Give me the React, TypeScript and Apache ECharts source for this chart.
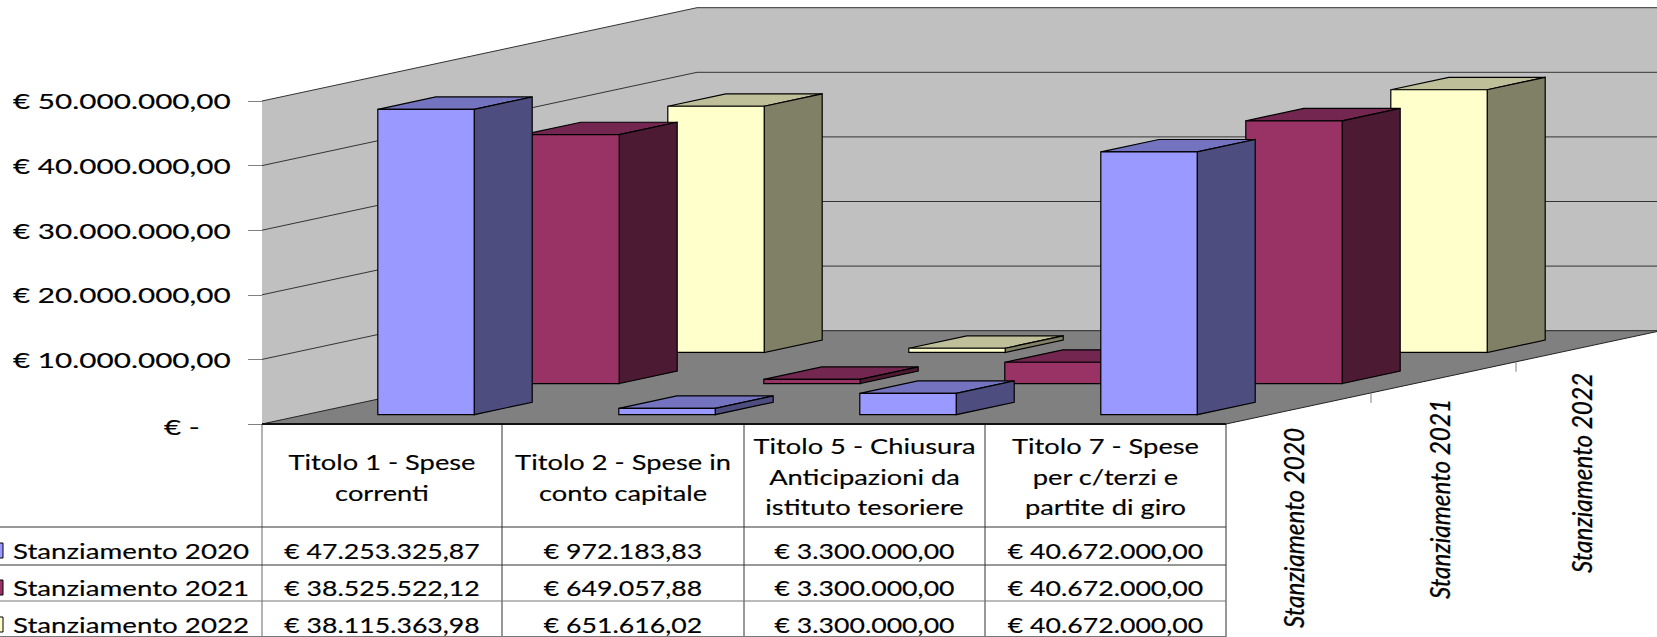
import React, { useEffect, useRef } from "react";
import * as echarts from "echarts";

const categories = ["Titolo 1 - Spese correnti", "Titolo 2 - Spese in conto capitale", "Titolo 5 - Chiusura Anticipazioni da istituto tesoriere", "Titolo 7 - Spese per c/terzi e partite di giro"];
const categoryLines = [
  ["Titolo 1 - Spese", "correnti"],
  ["Titolo 2 - Spese in", "conto capitale"],
  ["Titolo 5 - Chiusura", "Anticipazioni da", "istituto tesoriere"],
  ["Titolo 7 - Spese", "per c/terzi e", "partite di giro"],
];
const seriesNames = ["Stanziamento 2020", "Stanziamento 2021", "Stanziamento 2022"];
const values2020 = [47253325.87, 972183.83, 3300000, 40672000];
const values2021 = [38525522.12, 649057.88, 3300000, 40672000];
const values2022 = [38115363.98, 651616.02, 3300000, 40672000];
const labels2020 = ["€ 47.253.325,87", "€ 972.183,83", "€ 3.300.000,00", "€ 40.672.000,00"];
const labels2021 = ["€ 38.525.522,12", "€ 649.057,88", "€ 3.300.000,00", "€ 40.672.000,00"];
const labels2022 = ["€ 38.115.363,98", "€ 651.616,02", "€ 3.300.000,00", "€ 40.672.000,00"];
const yTicks = [0, 10000000, 20000000, 30000000, 40000000, 50000000];
const yTickLabels = ["€ -", "€ 10.000.000,00", "€ 20.000.000,00", "€ 30.000.000,00", "€ 40.000.000,00", "€ 50.000.000,00"];

const FONT = "Lato";
const GRID = { left: 262, top: 101, width: 964, height: 323 };
const DEPTH = { dx: 145, dy: -31.1 };
const COLS = [262, 502, 744, 985, 1226];
const ROWS = [527, 565, 601, 636.5];
const BOTTOM = 637;
const faces = [
  { front: "#9999FF", top: "#7373BF", side: "#4D4D80" },
  { front: "#993366", top: "#732650", side: "#4D1A33" },
  { front: "#FFFFCC", top: "#BFBF99", side: "#808066" },
];
const allValues = [values2020, values2021, values2022];
const allLabels = [labels2020, labels2021, labels2022];

function App() {
  const ref = useRef<HTMLDivElement>(null);
  useEffect(() => {
    document.body.style.margin = "0";
    const chart = echarts.init(ref.current!, undefined, { renderer: "svg" });

    const ink = { stroke: "#000", lineWidth: 1.2 };

    const wallSeries = {
      type: "custom",
      name: "walls",
      z: 1,
      silent: true,
      data: [[0]],
      renderItem: (_p: any, api: any) => {
        const c0 = api.coord([0, 0])[0] - api.size([1, 0])[0] / 2;
        const cw = api.size([1, 0])[0];
        const at = (k: number, v: number, z: number) => {
          const y = api.coord([0, v])[1];
          return [c0 + k * cw + z * DEPTH.dx, y + z * DEPTH.dy];
        };
        const top = 50000000;
        const children: any[] = [
          { type: "polygon", shape: { points: [at(0, 0, 0), at(0, top, 0), at(0, top, 3), at(0, 0, 3)] }, style: { fill: "#C0C0C0" } },
          { type: "polygon", shape: { points: [at(0, 0, 3), at(0, top, 3), at(4.1, top, 3), at(4.1, 0, 3)] }, style: { fill: "#C0C0C0" } },
          { type: "polygon", shape: { points: [at(0, 0, 0), at(0, 0, 3), at(4, 0, 3), at(4, 0, 0)] }, style: { fill: "#808080", stroke: "#222", lineWidth: 1 } },
        ];
        yTicks.forEach((v) => {
          if (v === 0) return;
          children.push({ type: "polyline", shape: { points: [at(0, v, 0), at(0, v, 3), at(4.1, v, 3)] }, style: { fill: "none", stroke: "#333", lineWidth: 1 } });
        });
        [1, 2].forEach((z) => {
          const p = at(4, 0, z);
          children.push({ type: "line", shape: { x1: p[0], y1: p[1], x2: p[0], y2: p[1] + 10 }, style: { stroke: "#808080", lineWidth: 1 } });
        });
        return { type: "group", children };
      },
    };

    const barSeries = [2, 1, 0].map((s) => ({
      type: "custom",
      name: seriesNames[s],
      z: 2 + (2 - s),
      data: allValues[s].map((v, i) => [i, v]),
      encode: { x: 0, y: 1 },
      renderItem: (_p: any, api: any) => {
        const cat = api.value(0);
        const val = api.value(1);
        const cw = api.size([1, 0])[0];
        const bw = cw * 0.4;
        const base = api.coord([cat, 0]);
        const topP = api.coord([cat, val]);
        const z0 = s + 0.3;
        const z1 = s + 0.7;
        const pt = (side: number, y: number, z: number) => [base[0] + side * bw / 2 + z * DEPTH.dx, y + z * DEPTH.dy];
        const col = faces[s];
        return {
          type: "group",
          children: [
            { type: "polygon", shape: { points: [pt(-1, topP[1], z0), pt(-1, topP[1], z1), pt(1, topP[1], z1), pt(1, topP[1], z0)] }, style: { fill: col.top, ...ink } },
            { type: "polygon", shape: { points: [pt(1, topP[1], z0), pt(1, topP[1], z1), pt(1, base[1], z1), pt(1, base[1], z0)] }, style: { fill: col.side, ...ink } },
            { type: "polygon", shape: { points: [pt(-1, topP[1], z0), pt(1, topP[1], z0), pt(1, base[1], z0), pt(-1, base[1], z0)] }, style: { fill: col.front, ...ink } },
          ],
        };
      },
    }));

    const txt = (x: number, y: number, text: string, align: string, scaleX: number, fontSize: number) => ({
      type: "text",
      x,
      y,
      scaleX,
      z: 20,
      silent: true,
      style: { text, fontFamily: FONT, fontSize, fill: "#000", stroke: "#000", lineWidth: 0.15, textAlign: align, textVerticalAlign: "middle" },
    });
    const seg = (x1: number, y1: number, x2: number, y2: number, stroke = "#333", lineWidth = 1) => ({
      type: "line",
      z: 20,
      silent: true,
      shape: { x1, y1, x2, y2 },
      style: { stroke, lineWidth },
    });

    const graphics: any[] = [];
    yTickLabels.forEach((t, i) => {
      const y = GRID.top + GRID.height - (yTicks[i] / 50000000) * GRID.height;
      graphics.push(i === 0 ? txt(164, y + 3, t, "left", 1.35, 22) : txt(13, y, t, "left", 1.35, 22));
    });
    COLS.forEach((x) => graphics.push(seg(x, GRID.top + GRID.height, x, BOTTOM, x === 262 ? "#666" : "#333")));
    ROWS.forEach((y) => graphics.push(seg(0, y, COLS[4], y, y === 601 || y === 636.5 ? "#777" : "#333")));
    graphics.push(seg(GRID.left, 424, COLS[4], 424, "#111", 2));
    categoryLines.forEach((lines, c) => {
      const cx = (COLS[c] + COLS[c + 1]) / 2;
      const ys = lines.length === 2 ? [462, 492.5] : [445.5, 476.5, 507];
      lines.forEach((l, k) => graphics.push(txt(cx, ys[k], l, "center", 1.3, 21)));
    });
    const rowY = [551, 588, 625];
    const keyY = [550.5, 587.5, 624.5];
    seriesNames.forEach((n, s) => {
      graphics.push({ type: "rect", z: 20, silent: true, shape: { x: -6, y: keyY[s] - 7.5, width: 9, height: 15 }, style: { fill: faces[s].front, stroke: "#000", lineWidth: 1 } });
      graphics.push(txt(13, rowY[s], n, "left", 1.32, 21));
      allLabels[s].forEach((l, c) => graphics.push(txt((COLS[c] + COLS[c + 1]) / 2, rowY[s], l, "center", 1.27, 21)));
    });
    const rot = [[1293, 528], [1439, 499], [1581, 473]];
    seriesNames.forEach((n, s) => {
      graphics.push({
        type: "text", z: 20, silent: true, x: rot[s][0], y: rot[s][1], rotation: Math.PI / 2, scaleX: 0.9,
        style: { text: n, fontFamily: FONT, fontSize: 27, fontStyle: "italic", fill: "#000", stroke: "#000", lineWidth: 0.3, textAlign: "center", textVerticalAlign: "middle" },
      });
    });

    chart.setOption({
      animation: false,
      backgroundColor: "#fff",
      grid: { ...GRID },
      xAxis: { type: "category", data: categories, axisLine: { show: false }, axisTick: { show: false }, axisLabel: { show: false } },
      yAxis: {
        type: "value", min: 0, max: 50000000, interval: 10000000,
        axisLine: { show: true, lineStyle: { color: "#808080", width: 1 } },
        axisTick: { show: true, length: 14, lineStyle: { color: "#808080" } },
        axisLabel: { show: false },
        splitLine: { show: false },
      },
      series: [wallSeries, ...barSeries],
      graphic: graphics,
    });
    return () => chart.dispose();
  }, []);
  return <div ref={ref} style={{ width: 1657, height: 637 }} />;
}

export default App;
